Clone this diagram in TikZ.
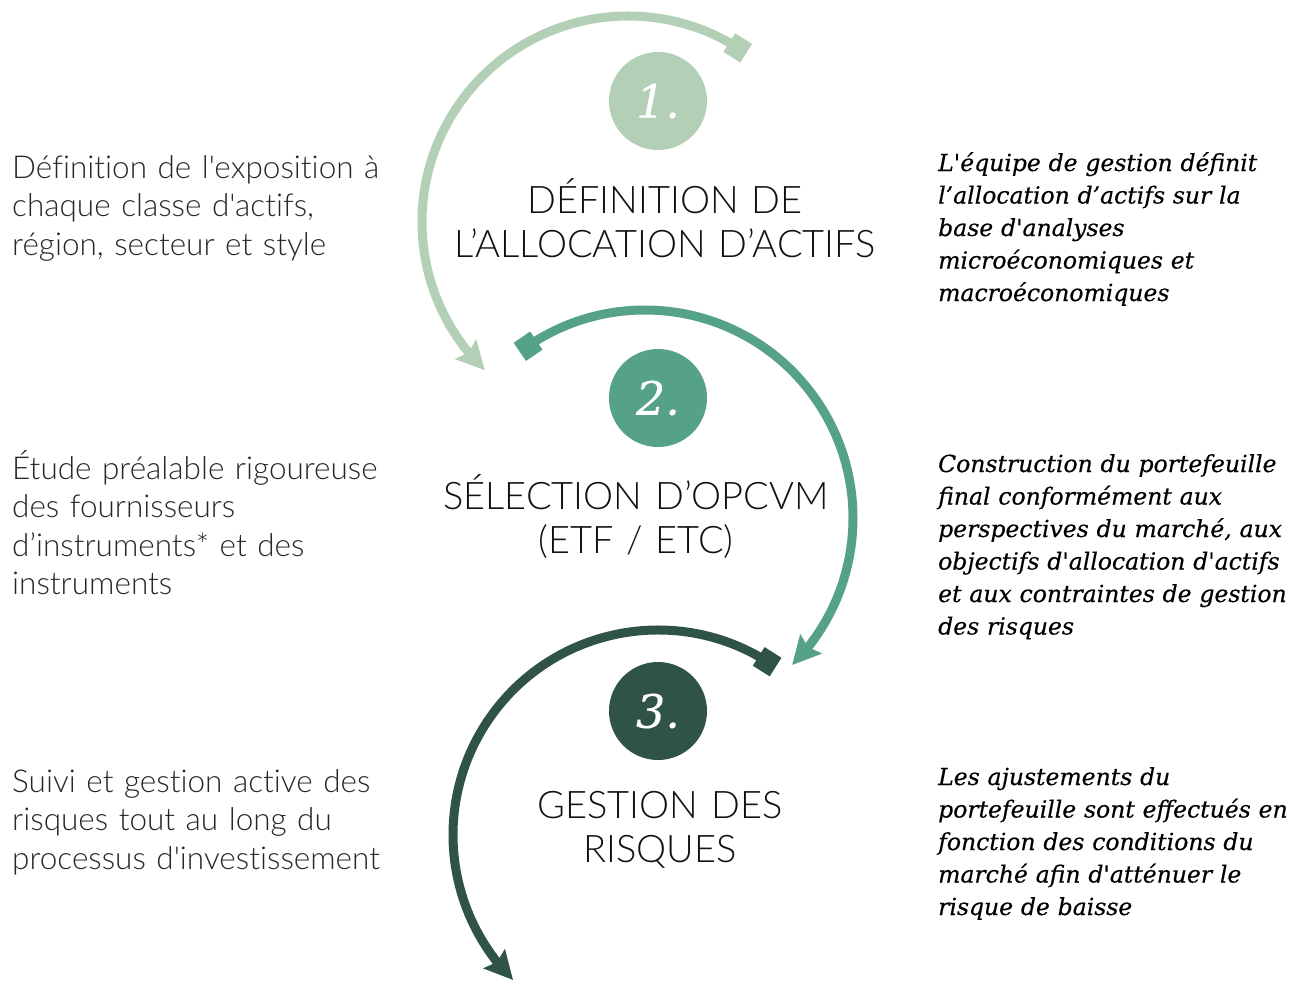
\documentclass[tikz,border=0pt]{standalone}
\usepackage{fontspec}
\newfontfamily\lato[Ligatures=NoCommon,WordSpace=0.8]{Lato Light}
\newfontfamily\serifit[ItalicFeatures={FakeBold=0.4}]{DejaVu Serif}
\usetikzlibrary{arrows.meta,bending}
\definecolor{cone}{HTML}{B3CFB6}
\definecolor{ctwo}{HTML}{55A286}
\definecolor{cthree}{HTML}{2F5344}
\definecolor{txtgray}{HTML}{262626}
\definecolor{titlegray}{HTML}{111111}
\begin{document}
\begin{tikzpicture}[x=1pt,y=1pt,
  lefttxt/.style={anchor=base west, inner sep=0, text width=420pt, align=left,
    font=\lato\fontsize{31.5}{38.5}\selectfont, text=txtgray},
  righttxt/.style={anchor=base west, inner sep=0, text width=380pt, align=left,
    font=\serifit\itshape\fontsize{23.5}{32.5}\selectfont, text=black},
  titletxt/.style={anchor=base, inner sep=0, text width=520pt, align=center,
    font=\lato\fontsize{38}{44}\selectfont, text=titlegray},
  numcirc/.style={circle, minimum size=98pt, inner sep=0, text=white,
    font=\serifit\itshape\fontsize{46}{46}\selectfont},
  arcline/.style={line width=9pt,
    {Square[length=20pt,width=22pt]}-{Stealth[length=28pt,width=28pt,inset=4pt]}},
]
\useasboundingbox (0,0) rectangle (1299,-983);

% arc centres
\coordinate (c1) at (628,-222);
\coordinate (c2) at (645,-518);
\coordinate (c3) at (658,-835);

% arcs
\draw[arcline, cone] (c1) ++(55:206) arc[start angle=55, end angle=226, radius=206];
\draw[arcline, ctwo] (c2) ++(127:208) arc[start angle=127, end angle=-45, radius=208];
\draw[arcline, cthree] (c3) ++(55:205) arc[start angle=55, end angle=225, radius=205];

% numbered circles
\node[numcirc, fill=cone] (n1) at (658,-101) {1.};
\node[numcirc, fill=ctwo] (n2) at (658,-398) {2.};
\node[numcirc, fill=cthree] (n3) at (658,-711) {3.};

% titles
\node[titletxt] (t1) at (665,-213) {DÉFINITION DE\\L’ALLOCATION D’ACTIFS};
\node[titletxt] (t2) at (636,-509) {SÉLECTION D’OPCVM\\(ETF / ETC)};
\node[titletxt] (t3) at (660,-818) {GESTION DES\\RISQUES};

% left texts
\node[lefttxt] (l1) at (12,-178) {Définition de l'exposition à\\chaque classe d'actifs,\\région, secteur et style};
\node[lefttxt] (l2) at (12,-479) {Étude préalable rigoureuse\\des fournisseurs\\d’instruments* et des\\instruments};
\node[lefttxt] (l3) at (12,-792) {Suivi et gestion active des\\risques tout au long du\\processus d'investissement};

% right texts
\node[righttxt] (r1) at (938,-171) {L'équipe de gestion définit\\l’allocation d’actifs sur la\\base d'analyses\\microéconomiques et\\macroéconomiques};
\node[righttxt] (r2) at (938,-472) {Construction du portefeuille\\final conformément aux\\perspectives du marché, aux\\objectifs d'allocation d'actifs\\et aux contraintes de gestion\\des risques};
\node[righttxt] (r3) at (938,-785) {Les ajustements du\\portefeuille sont effectués en\\fonction des conditions du\\marché afin d'atténuer le\\risque de baisse};
\end{tikzpicture}
\end{document}
